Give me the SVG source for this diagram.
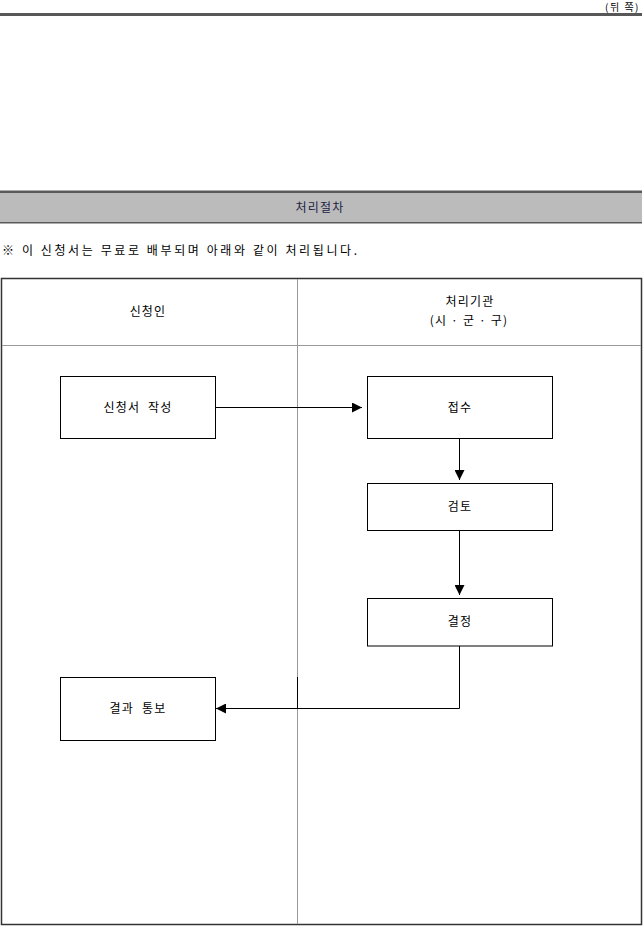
<svg xmlns="http://www.w3.org/2000/svg" width="643" height="926" viewBox="0 0 643 926">
<style>
text{font-family:"Noto Sans CJK KR","Liberation Sans",sans-serif;font-size:12px;fill:#000;}
.c{text-anchor:middle;letter-spacing:1.2px;}
.box{fill:#fff;stroke:#000;stroke-width:1;}
.conn{fill:none;stroke:#000;stroke-width:1;}
.lane{stroke:#999;stroke-width:1;fill:none;}
</style>
<defs>
<marker id="ah" markerUnits="userSpaceOnUse" markerWidth="11" markerHeight="10" refX="10" refY="5" orient="auto">
<path d="M0,0 L10,5 L0,10 Z" fill="#000"/>
</marker>
</defs>
<rect x="0" y="0" width="643" height="926" fill="#fff"/>
<text x="640" y="10.5" style="text-anchor:end;font-size:10px;letter-spacing:1.5px">(뒤 쪽)</text>
<rect x="0" y="13" width="642" height="3" fill="#585858"/>
<g id="header">
<rect x="0" y="192" width="642" height="30.5" fill="#bbbbbb"/>
<rect x="0" y="190.5" width="642" height="2.5" fill="#5a5a5a"/>
<rect x="0" y="222" width="642" height="1.5" fill="#5a5a5a"/>
<text x="320" y="211.5" class="c" style="fill:#222244">처리절차</text>
</g>
<text x="2" y="255" textLength="355" lengthAdjust="spacing">※ 이 신청서는 무료로 배부되며 아래와 같이 처리됩니다.</text>
<g id="lanes">
<rect x="1.5" y="278.5" width="640" height="646" fill="none" stroke="#333" stroke-width="1.5"/>
<line class="lane" x1="297.5" y1="279" x2="297.5" y2="924"/>
<line class="lane" x1="2" y1="345.5" x2="641" y2="345.5"/>
<line x1="297.5" y1="677" x2="297.5" y2="708" stroke="#000" stroke-width="1"/>
<text x="148" y="316" class="c">신청인</text>
<text x="470" y="306" class="c">처리기관</text>
<text x="469" y="325" class="c">(시 · 군 · 구)</text>
</g>
<g id="connectors">
<line class="conn" x1="216" y1="407.5" x2="362" y2="407.5" marker-end="url(#ah)"/>
<line class="conn" x1="459.5" y1="438" x2="459.5" y2="480" marker-end="url(#ah)"/>
<line class="conn" x1="459.5" y1="531" x2="459.5" y2="595" marker-end="url(#ah)"/>
<polyline class="conn" points="459.5,646 459.5,708.5 216,708.5" marker-end="url(#ah)"/>
</g>
<g id="n1">
<rect class="box" x="60.5" y="376.5" width="155" height="62"/>
<text x="138" y="411.5" class="c" style="word-spacing:4px">신청서 작성</text>
</g>
<g id="n2">
<rect class="box" x="367.5" y="376.5" width="185" height="62"/>
<text x="460" y="411.5" class="c">접수</text>
</g>
<g id="n3">
<rect class="box" x="367.5" y="483.5" width="185" height="47"/>
<text x="460" y="511" class="c">검토</text>
</g>
<g id="n4">
<rect class="box" x="367.5" y="598.5" width="185" height="47.5"/>
<text x="460" y="626" class="c">결정</text>
</g>
<g id="n5">
<rect class="box" x="60.5" y="677.5" width="155" height="63"/>
<text x="138" y="713" class="c" style="word-spacing:4px">결과 통보</text>
</g>
</svg>
